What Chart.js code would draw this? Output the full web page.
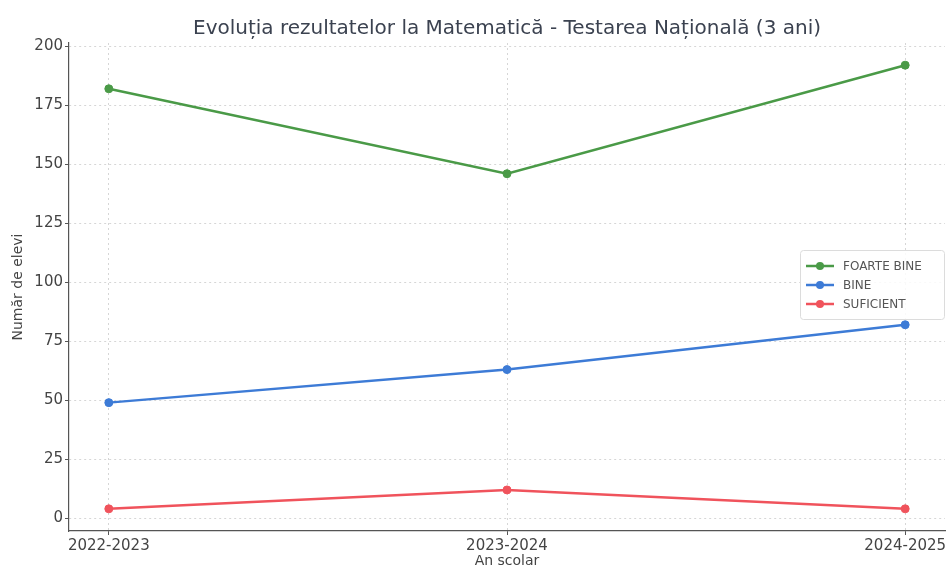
<!DOCTYPE html>
<html>
<head>
<meta charset="utf-8">
<script src="https://cdn.jsdelivr.net/npm/chart.js@4"></script>
<style>
  html, body { margin: 0; padding: 0; background: #fff; }
  #wrap { width: 952px; height: 571px; }
</style>
</head>
<body>
<div id="wrap"><canvas id="evoChart"></canvas></div>
<script>
const years = ['2022-2023', '2023-2024', '2024-2025'];
const foarteBine = [182, 146, 192];
const bine = [49, 63, 82];
const suficient = [4, 12, 4];
const yTicks = [0, 25, 50, 75, 100, 125, 150, 175, 200];

const toPoints = arr => arr.map((v, i) => ({ x: i, y: v }));

const TITLE = 'Evoluția rezultatelor la Matematică - Testarea Națională (3 ani)';

// title centred over the plot area and legend inside it, matplotlib style
const extras = {
    id: 'extras',
    afterDraw(chart) {
        const c = chart.ctx;
        const area = chart.chartArea;
        c.save();
        c.fillStyle = '#3b4250';
        c.font = '20px "DejaVu Sans", sans-serif';
        c.textAlign = 'center';
        c.textBaseline = 'middle';
        c.fillText(TITLE, (area.left + area.right) / 2, 29);

        const bx = 800, by = 250, bw = 144, bh = 69;
        c.fillStyle = 'rgba(255,255,255,0.85)';
        c.strokeStyle = '#dcdcdc';
        c.lineWidth = 1;
        c.beginPath();
        c.roundRect(bx + 0.5, by + 0.5, bw, bh, 3);
        c.fill();
        c.stroke();

        c.font = '12px "DejaVu Sans", sans-serif';
        c.textAlign = 'left';
        chart.data.datasets.forEach((ds, i) => {
            const y = by + 16 + i * 19;
            c.strokeStyle = ds.borderColor;
            c.lineWidth = 2.5;
            c.beginPath();
            c.moveTo(bx + 6, y);
            c.lineTo(bx + 34, y);
            c.stroke();
            c.fillStyle = ds.borderColor;
            c.beginPath();
            c.arc(bx + 20, y, 4, 0, Math.PI * 2);
            c.fill();
            c.fillStyle = '#555';
            c.fillText(ds.label, bx + 43, y + 1);
        });
        c.restore();
    }
};

const ctx = document.getElementById('evoChart').getContext('2d');

const evoChart = new Chart(ctx, {
    type: 'line',
    data: {
        datasets: [{
            label: 'FOARTE BINE',
            data: toPoints(foarteBine),
            borderColor: '#4a9a47',
            backgroundColor: '#4a9a47'
        }, {
            label: 'BINE',
            data: toPoints(bine),
            borderColor: '#3d7bd6',
            backgroundColor: '#3d7bd6'
        }, {
            label: 'SUFICIENT',
            data: toPoints(suficient),
            borderColor: '#f0535c',
            backgroundColor: '#f0535c'
        }]
    },
    options: {
        responsive: true,
        maintainAspectRatio: false,
        animation: false,
        layout: { padding: { top: 43, right: 7, left: 0, bottom: 0 } },
        elements: {
            line: { borderWidth: 2.5, tension: 0 },
            point: { radius: 4, hoverRadius: 4 }
        },
        plugins: {
            legend: { display: false },
            title: { display: false },
            tooltip: { enabled: false }
        },
        scales: {
            x: {
                type: 'linear',
                min: -0.1,
                max: 2.1,
                afterBuildTicks: axis => { axis.ticks = years.map((y, i) => ({ value: i })); },
                afterFit: axis => { axis.height = 40; },
                ticks: {
                    callback: v => years[v],
                    color: '#444',
                    font: { size: 15, family: '"DejaVu Sans", sans-serif' },
                    padding: 2,
                    maxRotation: 0
                },
                grid: { color: 'rgba(0,0,0,0.16)', tickColor: '#555', tickLength: 4 },
                border: { color: '#555', width: 1.2, dash: [2, 3] },
                title: {
                    display: true,
                    text: 'An scolar',
                    color: '#444',
                    font: { size: 14, family: '"DejaVu Sans", sans-serif' },
                    padding: { top: 0, bottom: 1 }
                }
            },
            y: {
                min: -5.4,
                max: 201.4,
                afterBuildTicks: axis => { axis.ticks = yTicks.map(v => ({ value: v })); },
                afterFit: axis => { axis.width = 69; },
                ticks: {
                    color: '#444',
                    font: { size: 15, family: '"DejaVu Sans", sans-serif' },
                    padding: 2
                },
                grid: { color: 'rgba(0,0,0,0.16)', tickColor: '#555', tickLength: 4 },
                border: { color: '#555', width: 1.2, dash: [2, 3] },
                title: {
                    display: true,
                    text: 'Număr de elevi',
                    color: '#444',
                    font: { size: 14, family: '"DejaVu Sans", sans-serif' },
                    padding: { top: 10, bottom: 0 }
                }
            }
        }
    },
    plugins: [extras]
});
</script>
</body>
</html>
